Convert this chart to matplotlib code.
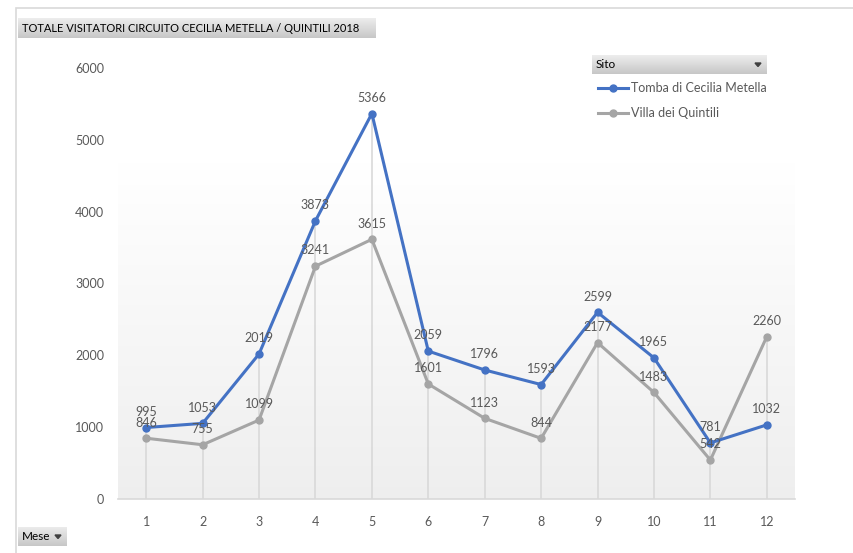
import numpy as np
import matplotlib.pyplot as plt
from matplotlib.patches import Rectangle, Polygon

mesi = [1, 2, 3, 4, 5, 6, 7, 8, 9, 10, 11, 12]
tomba = [995, 1053, 2019, 3873, 5366, 2059, 1796, 1593, 2599, 1965, 781, 1032]
villa = [846, 755, 1099, 3241, 3615, 1601, 1123, 844, 2177, 1483, 542, 2260]
serie_nomi = ['Tomba di Cecilia Metella', 'Villa dei Quintili']
titolo = 'TOTALE VISITATORI CIRCUITO CECILIA METELLA / QUINTILI 2018'

plt.rcParams['font.family'] = ['Lato', 'DejaVu Sans']
testo = '#595959'
blu = '#4472C4'
grigio = '#A5A5A5'

W, H = 854, 553
fig = plt.figure(figsize=(W / 100, H / 100), dpi=100)

def fx(px):
    return px / W

def fy(py):
    return 1 - py / H

# bordo del grafico
fig.patches.append(Rectangle((fx(16), fy(600)), fx(900), fy(8) - fy(600), transform=fig.transFigure,
                             facecolor='none', edgecolor='#d9d9d9', lw=1.2))

ax = fig.add_axes([fx(118), fy(499), fx(795) - fx(118), fy(68) - fy(499)])
ax.set_facecolor('none')

# sfondo sfumato dell'area del tracciato
grad = np.linspace(0, 1, 256).reshape(-1, 1)
grad = np.clip(grad / 0.88, 0, 1)
cols = np.ones((256, 1, 3))
for i in range(3):
    cols[:, 0, i] = 0.935 + (1 - 0.935) * grad[:, 0]
ax.imshow(cols, extent=[0.5, 12.5, 0, 5300], origin='lower', aspect='auto', zorder=0)

ax.set_xlim(0.5, 12.5)
ax.set_ylim(0, 6000)

# linee di proiezione
for m, a, b in zip(mesi, tomba, villa):
    ax.plot([m, m], [0, max(a, b)], color='#d9d9d9', lw=1.2, zorder=1)

ax.plot(mesi, tomba, color=blu, lw=2.2, marker='o', ms=5, zorder=4, label=serie_nomi[0])
ax.plot(mesi, villa, color=grigio, lw=2.2, marker='o', ms=5, zorder=3, label=serie_nomi[1])

for serie in (tomba, villa):
    for m, v in zip(mesi, serie):
        ax.annotate(str(v), (m, v), xytext=(0, 7), textcoords='offset points', ha='center', va='bottom',
                    fontsize=9, color=testo, zorder=5)

ax.set_xticks(mesi)
ax.set_yticks(range(0, 6001, 1000))
ax.tick_params(axis='both', length=0, labelsize=9, labelcolor=testo)
ax.tick_params(axis='x', pad=12)
ax.tick_params(axis='y', pad=10)
for s in ['top', 'right', 'left']:
    ax.spines[s].set_visible(False)
ax.spines['bottom'].set_color('#d9d9d9')
ax.spines['bottom'].set_linewidth(1.2)

# pulsanti grigi (titolo, Sito, Mese)
def pulsante(x0, y0, x1, y1, label, size, freccia=False):
    bx = fig.add_axes([fx(x0), fy(y1), fx(x1) - fx(x0), fy(y0) - fy(y1)])
    g = np.linspace(0.78, 0.93, 64).reshape(-1, 1)
    img = np.repeat(g[:, :, None], 3, axis=2)
    bx.imshow(img, extent=[0, 1, 0, 1], origin='lower', aspect='auto')
    bx.set_xlim(0, 1)
    bx.set_ylim(0, 1)
    bx.axis('off')
    fig.text(fx(x0 + 4), fy((y0 + y1) / 2), label, ha='left', va='center', fontsize=size, color='black')
    if freccia:
        cx, cy = x1 - 9, (y0 + y1) / 2
        fig.patches.append(Polygon([(fx(cx - 3), fy(cy - 1.5)), (fx(cx + 3), fy(cy - 1.5)), (fx(cx), fy(cy + 2))],
                                   closed=True, transform=fig.transFigure, color='#404040'))

pulsante(18, 18, 376, 38, titolo, 8.0)
pulsante(592, 55, 767, 74, 'Sito', 8.5, True)
pulsante(18, 527, 67, 546, 'Mese', 8.5, True)

# legenda
for i, (nome, c) in enumerate(zip(serie_nomi, [blu, grigio])):
    yy = 88 + 25 * i
    fig.lines.append(plt.Line2D([fx(598), fx(628)], [fy(yy), fy(yy)], transform=fig.transFigure,
                                color=c, lw=2.2))
    fig.lines.append(plt.Line2D([fx(613)], [fy(yy)], transform=fig.transFigure,
                                color=c, marker='o', ms=5, lw=0))
    fig.text(fx(631), fy(yy), nome, ha='left', va='center', fontsize=9, color=testo)

fig.savefig('out.png', dpi=100)
